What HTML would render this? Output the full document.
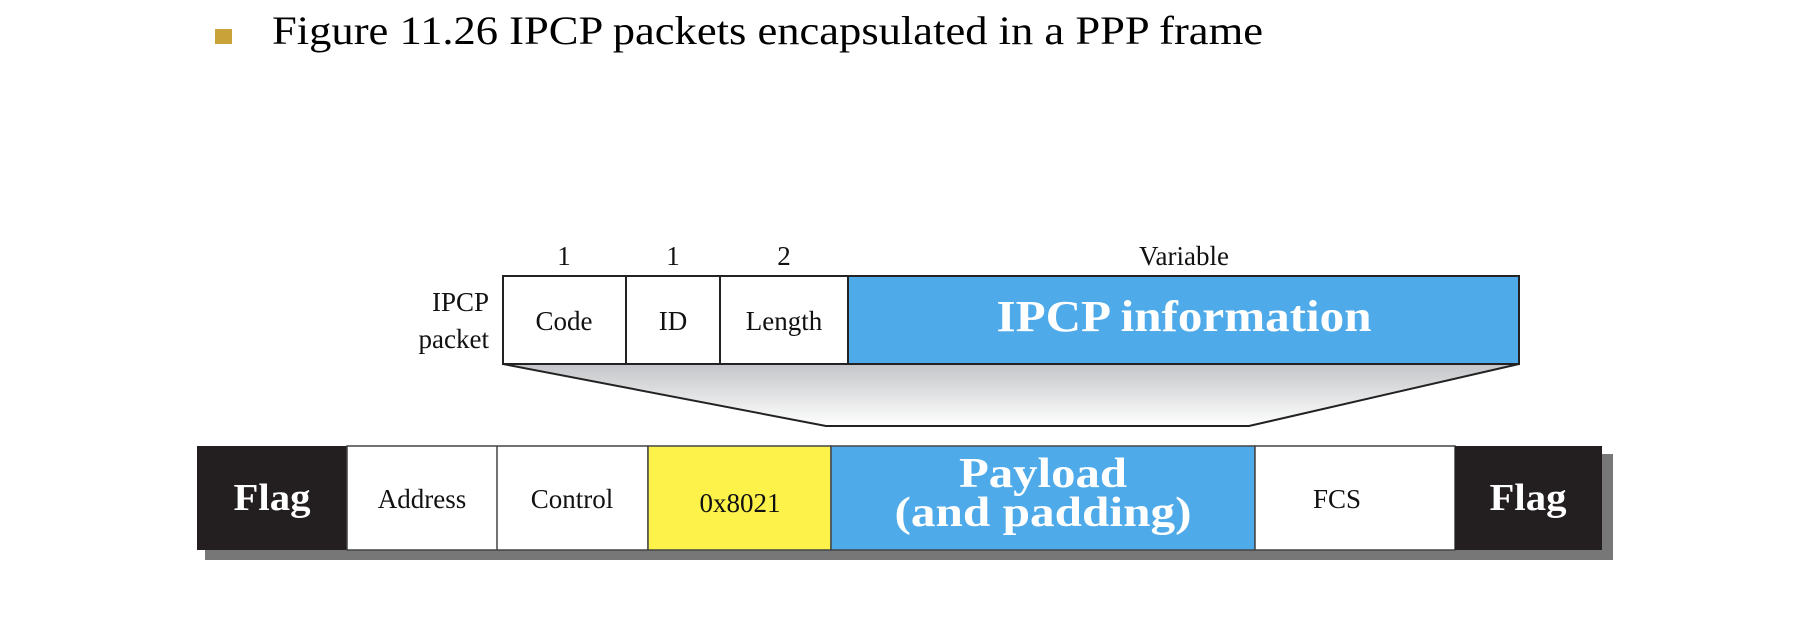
<!DOCTYPE html>
<html><head><meta charset="utf-8"><style>
body{margin:0;background:#fff;width:1794px;height:622px;overflow:hidden}
</style></head><body>
<svg width="1794" height="622" xmlns="http://www.w3.org/2000/svg" font-family="Liberation Serif, serif">
<defs><linearGradient id="g" x1="0" y1="0" x2="0" y2="1"><stop offset="0" stop-color="#c4c5c8"/><stop offset="1" stop-color="#ffffff"/></linearGradient></defs>
<rect x="215" y="29" width="17" height="15" fill="#c9a23a"/>
<text x="272" y="44" font-size="40" fill="#000" textLength="991" lengthAdjust="spacingAndGlyphs">Figure 11.26  IPCP packets encapsulated in a PPP frame</text>
<g font-size="27" text-anchor="middle" fill="#111">
<text x="564" y="265">1</text><text x="673" y="265">1</text><text x="784" y="265">2</text><text x="1184" y="265">Variable</text>
</g>
<g font-size="27" text-anchor="end" fill="#111"><text x="489" y="311">IPCP</text><text x="489" y="348">packet</text></g>
<polygon points="503,364 1519,364 1249,426 826,426" fill="url(#g)"/>
<polyline points="503,364 826,426 1249,426 1519,364" fill="none" stroke="#222" stroke-width="2"/>
<rect x="503" y="276" width="345" height="88" fill="#fff" stroke="#222" stroke-width="2"/>
<rect x="848" y="276" width="671" height="88" fill="#4eaae8" stroke="#222" stroke-width="2"/>
<line x1="626" y1="276" x2="626" y2="364" stroke="#222" stroke-width="2"/>
<line x1="720" y1="276" x2="720" y2="364" stroke="#222" stroke-width="2"/>
<g font-size="27" text-anchor="middle" fill="#111">
<text x="564" y="330">Code</text><text x="673" y="330">ID</text><text x="784" y="330">Length</text>
</g>
<text x="1184" y="331" font-size="44" font-weight="bold" fill="#fff" text-anchor="middle" textLength="375" lengthAdjust="spacingAndGlyphs">IPCP information</text>
<rect x="205" y="454" width="1408" height="106" fill="#777"/>
<rect x="197" y="446" width="150" height="104" fill="#231f20"/>
<rect x="347" y="446" width="301" height="104" fill="#fff" stroke="#444" stroke-width="1.5"/>
<line x1="497" y1="446" x2="497" y2="550" stroke="#444" stroke-width="1.5"/>
<rect x="648" y="446" width="183" height="104" fill="#fdf24a" stroke="#444" stroke-width="1.5"/>
<rect x="831" y="446" width="424" height="104" fill="#4eaae8" stroke="#444" stroke-width="1.5"/>
<rect x="1255" y="446" width="200" height="104" fill="#fff" stroke="#444" stroke-width="1.5"/>
<rect x="1455" y="446" width="147" height="104" fill="#231f20"/>
<g text-anchor="middle">
<text x="272" y="510" font-size="38" font-weight="bold" fill="#fff" textLength="77" lengthAdjust="spacingAndGlyphs">Flag</text>
<text x="1528" y="510" font-size="38" font-weight="bold" fill="#fff" textLength="77" lengthAdjust="spacingAndGlyphs">Flag</text>
<text x="422" y="508" font-size="27" fill="#111">Address</text>
<text x="572" y="508" font-size="27" fill="#111">Control</text>
<text x="740" y="512" font-size="27" fill="#111">0x8021</text>
<text x="1337" y="508" font-size="27" fill="#111">FCS</text>
<text x="1043" y="487" font-size="42" font-weight="bold" fill="#fff" textLength="168" lengthAdjust="spacingAndGlyphs">Payload</text>
<text x="1043" y="526" font-size="42" font-weight="bold" fill="#fff" textLength="297" lengthAdjust="spacingAndGlyphs">(and padding)</text>
</g>
</svg>
</body></html>
